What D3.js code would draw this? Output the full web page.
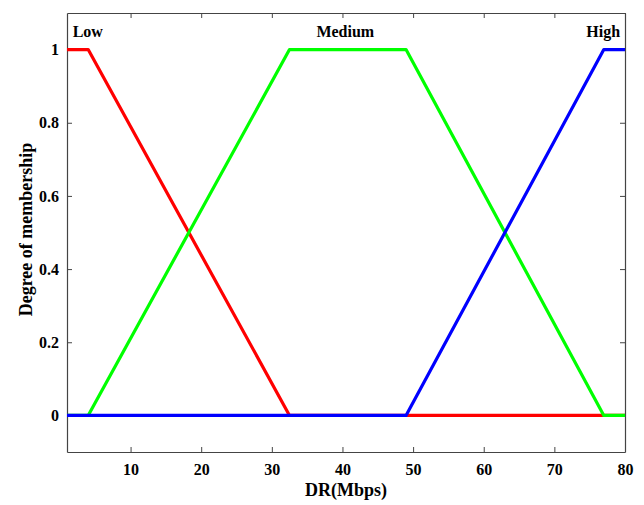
<!DOCTYPE html>
<html>
<head>
<meta charset="utf-8">
<script src="https://cdn.jsdelivr.net/npm/d3@7"></script>
<style>
  body { margin: 0; background: #fff; }
  text { font-family: "Liberation Serif", "Times New Roman", serif; font-weight: bold; }
</style>
</head>
<body>
<svg id="chart" width="644" height="505"></svg>
<script>
// membership functions (DR in Mbps -> degree)
var lowX = [1, 4, 32.5, 80];
var lowY = [1, 1, 0, 0];
var medX = [1, 4, 32.5, 49, 77, 80];
var medY = [0, 0, 1, 1, 0, 0];
var highX = [1, 49, 77, 80];
var highY = [0, 0, 1, 1];

var xTicks = [10, 20, 30, 40, 50, 60, 70, 80];
var yTicks = [0, 0.2, 0.4, 0.6, 0.8, 1];

var labels = [
  { text: "Low", x: 1.8, anchor: "start" },
  { text: "Medium", x: 40.4, anchor: "middle" },
  { text: "High", x: 79.3, anchor: "end" }
];

var margin = { top: 13, right: 19, bottom: 53, left: 67 };
var width = 644 - margin.left - margin.right;
var height = 505 - margin.top - margin.bottom;

var svg = d3.select("#chart")
  .append("g")
  .attr("transform", "translate(" + margin.left + "," + margin.top + ")");

var x = d3.scaleLinear().domain([1, 80]).range([0, width]);
var y = d3.scaleLinear().domain([-0.1, 1.1]).range([height, 0]);

// axes, ticks pointing inward on all four sides
function styleAxis(g) {
  g.selectAll("path").attr("stroke", "#444").attr("stroke-width", 1.2);
  g.selectAll("line").attr("stroke", "#444");
  g.selectAll("text").style("font-size", "16px").attr("fill", "#000");
}

svg.append("g")
  .attr("transform", "translate(0," + height + ")")
  .call(d3.axisBottom(x).tickValues(xTicks).tickSize(-5).tickSizeOuter(0).tickPadding(12))
  .call(styleAxis);

svg.append("g")
  .call(d3.axisTop(x).tickValues(xTicks).tickSize(-5).tickSizeOuter(0).tickFormat(""))
  .call(styleAxis);

svg.append("g")
  .call(d3.axisLeft(y).tickValues(yTicks).tickSize(-5).tickSizeOuter(0).tickPadding(8).tickFormat(d3.format("~g")))
  .call(styleAxis);

svg.append("g")
  .attr("transform", "translate(" + width + ",0)")
  .call(d3.axisRight(y).tickValues(yTicks).tickSize(-5).tickSizeOuter(0).tickFormat(""))
  .call(styleAxis);

var line = d3.line()
  .x(function (d) { return x(d[0]); })
  .y(function (d) { return y(d[1]); });

var series = [
  { xs: lowX, ys: lowY, color: "#ff0000" },
  { xs: medX, ys: medY, color: "#00ff00" },
  { xs: highX, ys: highY, color: "#0000ff" }
];

series.forEach(function (s) {
  svg.append("path")
    .datum(d3.zip(s.xs, s.ys))
    .attr("d", line)
    .attr("fill", "none")
    .attr("stroke", s.color)
    .attr("stroke-width", 3.2)
    .attr("stroke-linejoin", "round");
});

labels.forEach(function (l) {
  svg.append("text")
    .attr("x", x(l.x))
    .attr("y", 24)
    .attr("text-anchor", l.anchor)
    .style("font-size", "16px")
    .text(l.text);
});

svg.append("text")
  .attr("x", width / 2)
  .attr("y", height + 44)
  .attr("text-anchor", "middle")
  .style("font-size", "18px")
  .text("DR(Mbps)");

svg.append("text")
  .attr("transform", "rotate(-90)")
  .attr("x", -height / 2 + 3)
  .attr("y", -35)
  .attr("text-anchor", "middle")
  .style("font-size", "18px")
  .text("Degree of membership");
</script>
</body>
</html>
